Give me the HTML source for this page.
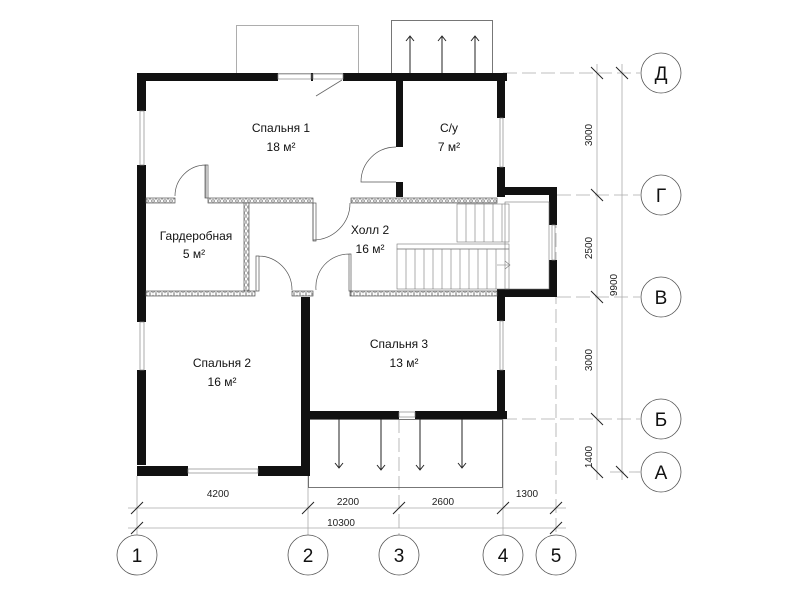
<!DOCTYPE html>
<html><head><meta charset="utf-8"><style>
html,body{margin:0;padding:0;background:#fff;}
svg{display:block;font-family:"Liberation Sans",Arial,sans-serif;}
</style></head><body>
<svg width="800" height="600" viewBox="0 0 800 600" xmlns="http://www.w3.org/2000/svg">
<defs>
<pattern id="h" width="6" height="6" patternUnits="userSpaceOnUse">
<rect width="6" height="6" fill="#fff"/>
<path d="M0 0L3 5L6 0M0 6L3 1L6 6" stroke="#888" stroke-width="0.6" fill="none"/>
</pattern>
</defs>
<!-- axis dashed lines -->
<g stroke="#aaa" stroke-width="0.8" fill="none" stroke-dasharray="14,5">
<line x1="503" y1="73" x2="640" y2="73"/>
<line x1="557" y1="195" x2="640" y2="195"/>
<line x1="557" y1="297" x2="640" y2="297"/>
<line x1="503" y1="419" x2="640" y2="419"/>
<line x1="610" y1="472" x2="640" y2="472"/>
<line x1="399" y1="419" x2="399" y2="535"/>
<line x1="556" y1="195" x2="556" y2="535"/>
</g>
<g stroke="#aaa" stroke-width="0.8" fill="none">
<line x1="137" y1="476" x2="137" y2="535"/>
<line x1="308" y1="476" x2="308" y2="535"/>
<line x1="503" y1="419" x2="503" y2="535"/>
<!-- dims horizontal -->
<line x1="128" y1="508" x2="566" y2="508"/>
<line x1="128" y1="528" x2="566" y2="528"/>
<!-- dims vertical -->
<line x1="597" y1="64" x2="597" y2="480"/>
<line x1="622" y1="64" x2="622" y2="480"/>
</g>
<g stroke="#222" stroke-width="1">
<line x1="131" y1="514" x2="143" y2="502"/><line x1="302" y1="514" x2="314" y2="502"/>
<line x1="393" y1="514" x2="405" y2="502"/><line x1="497" y1="514" x2="509" y2="502"/>
<line x1="550" y1="514" x2="562" y2="502"/>
<line x1="131" y1="534" x2="143" y2="522"/><line x1="550" y1="534" x2="562" y2="522"/>
<line x1="591" y1="67" x2="603" y2="79"/><line x1="591" y1="189" x2="603" y2="201"/>
<line x1="591" y1="291" x2="603" y2="303"/><line x1="591" y1="413" x2="603" y2="425"/>
<line x1="591" y1="466" x2="603" y2="478"/>
<line x1="616" y1="67" x2="628" y2="79"/><line x1="616" y1="466" x2="628" y2="478"/>
</g>
<g font-size="10" fill="#222" text-anchor="middle">
<text x="218" y="497">4200</text><text x="348" y="505">2200</text>
<text x="443" y="505">2600</text><text x="527" y="497">1300</text>
<text x="341" y="526">10300</text>
<text transform="translate(592,135) rotate(-90)">3000</text>
<text transform="translate(592,248) rotate(-90)">2500</text>
<text transform="translate(592,360) rotate(-90)">3000</text>
<text transform="translate(592,457) rotate(-90)">1400</text>
<text transform="translate(617,285) rotate(-90)">9900</text>
</g>
<!-- circles -->
<g fill="#fff" stroke="#555" stroke-width="0.8">
<circle cx="137" cy="555" r="20"/><circle cx="308" cy="555" r="20"/>
<circle cx="399" cy="555" r="20"/><circle cx="503" cy="555" r="20"/>
<circle cx="556" cy="555" r="20"/>
<circle cx="661" cy="73" r="20"/><circle cx="661" cy="195" r="20"/>
<circle cx="661" cy="297" r="20"/><circle cx="661" cy="419" r="20"/>
<circle cx="661" cy="472" r="20"/>
</g>
<g font-size="19" fill="#111" text-anchor="middle">
<text x="137" y="562">1</text><text x="308" y="562">2</text><text x="399" y="562">3</text>
<text x="503" y="562">4</text><text x="556" y="562">5</text>
<text x="661" y="80">Д</text><text x="661" y="202">Г</text><text x="661" y="304">В</text>
<text x="661" y="426">Б</text><text x="661" y="479">А</text>
</g>
<!-- top rects -->
<rect x="236.5" y="25.5" width="122" height="48" fill="none" stroke="#999" stroke-width="0.8"/>
<rect x="391.5" y="20.5" width="101" height="53" fill="none" stroke="#555" stroke-width="0.8"/>
<g stroke="#222" stroke-width="1" fill="none">
<path d="M410 73V36M406 41L410 36L414 41"/>
<path d="M442 73V36M438 41L442 36L446 41"/>
<path d="M475 73V36M471 41L475 36L479 41"/>
</g>
<!-- balcony -->
<rect x="308.5" y="419.5" width="194" height="68" fill="none" stroke="#555" stroke-width="0.8"/>
<g stroke="#222" stroke-width="1" fill="none">
<path d="M339 419V468M335 463L339 468L343 463"/>
<path d="M381 419V470M377 465L381 470L385 465"/>
<path d="M420 419V470M416 465L420 470L424 465"/>
<path d="M462 419V468M458 463L462 468L466 463"/>
</g>
<!-- walls -->
<g fill="#111">
<rect x="137" y="73" width="141" height="8"/>
<rect x="311" y="73" width="2" height="8"/>
<rect x="343" y="73" width="164" height="8"/>
<rect x="137" y="73" width="9" height="38"/>
<rect x="137" y="165" width="9" height="300"/>
<rect x="137" y="322" width="9" height="0"/>
<rect x="137" y="466" width="51" height="10"/>
<rect x="258" y="466" width="52" height="10"/>
<rect x="301" y="297" width="9" height="179"/>
<rect x="301" y="411" width="98" height="8"/>
<rect x="415" y="411" width="92" height="8"/>
<rect x="497" y="73" width="8" height="45"/>
<rect x="497" y="167" width="8" height="30"/>
<rect x="497" y="297" width="8" height="24"/>
<rect x="497" y="370" width="8" height="49"/>
<rect x="396" y="77" width="7" height="70"/>
<rect x="396" y="182" width="7" height="15"/>
<rect x="497" y="187" width="60" height="8"/>
<rect x="549" y="187" width="8" height="38"/>
<rect x="549" y="260" width="8" height="37"/>
<rect x="497" y="289" width="60" height="8"/>
<rect x="301" y="297" width="6" height="14"/>
</g>
<!-- wall gap fixes -->
<rect x="137" y="322" width="9" height="48" fill="#fff"/>
<g fill="none" stroke="#888" stroke-width="0.7">
<rect x="140" y="111" width="4" height="54"/>
<rect x="140" y="322" width="4" height="48"/>
<rect x="500" y="118" width="3" height="49"/>
<rect x="500" y="321" width="3" height="49"/>
<rect x="552" y="225" width="3" height="35"/>
<rect x="188" y="469" width="70" height="4"/>
<rect x="278" y="74" width="33" height="5"/>
<rect x="313" y="74" width="30" height="5"/>
<rect x="399" y="412" width="16" height="5"/>
</g>
<line x1="342" y1="80" x2="316" y2="96" stroke="#666" stroke-width="0.8"/>
<!-- hatched partitions -->
<g fill="url(#h)" stroke="#555" stroke-width="0.7">
<rect x="146" y="198" width="29" height="5"/>
<rect x="208" y="198" width="105" height="5"/>
<rect x="351" y="198" width="146" height="5"/>
<rect x="244" y="203" width="5" height="88"/>
<rect x="146" y="291" width="109" height="5"/>
<rect x="292" y="291" width="21" height="5"/>
<rect x="350" y="291" width="147" height="5"/>
</g>
<!-- door leaves/arcs -->
<g fill="none" stroke="#555" stroke-width="0.7">
<path d="M206 198V165A31 31 0 0 0 175 196"/>
<rect x="205" y="165" width="3" height="33"/>
<path d="M313 203V240A37 37 0 0 0 350 203"/>
<rect x="313" y="203" width="3" height="38"/>
<path d="M396 147A35 35 0 0 0 361 182H396"/>
<path d="M256 256V291H259V256ZM259 256A34 34 0 0 1 292 290"/>
<path d="M349 254V291H351V254ZM349 254A33 33 0 0 0 316 290"/>
<path d="M351 296V290"/>
</g>
<!-- stairs -->
<g fill="none" stroke="#777" stroke-width="0.6">
<rect x="457" y="204" width="52" height="38"/>
<path d="M466 204V242M475 204V242M484 204V242M493 204V242M502 204V242"/>
<rect x="397" y="244" width="112" height="5"/>
<rect x="397" y="249" width="112" height="40"/>
<path d="M406 249V289M415 249V289M424 249V289M433 249V289M442 249V289M451 249V289M460 249V289M469 249V289M478 249V289M487 249V289M496 249V289"/>
<path d="M497 265H510M505 261L510 265L505 269"/>
<rect x="505" y="202" width="44" height="87"/>
</g>
<!-- room labels -->
<g font-size="12" fill="#111" text-anchor="middle">
<text x="281" y="132">Спальня 1</text><text x="281" y="151">18 м²</text>
<text x="449" y="132">С/у</text><text x="449" y="151">7 м²</text>
<text x="196" y="240">Гардеробная</text><text x="194" y="258">5 м²</text>
<text x="370" y="234">Холл 2</text><text x="370" y="253">16 м²</text>
<text x="222" y="367">Спальня 2</text><text x="222" y="386">16 м²</text>
<text x="399" y="348">Спальня 3</text><text x="404" y="367">13 м²</text>
</g>
</svg>
</body></html>
